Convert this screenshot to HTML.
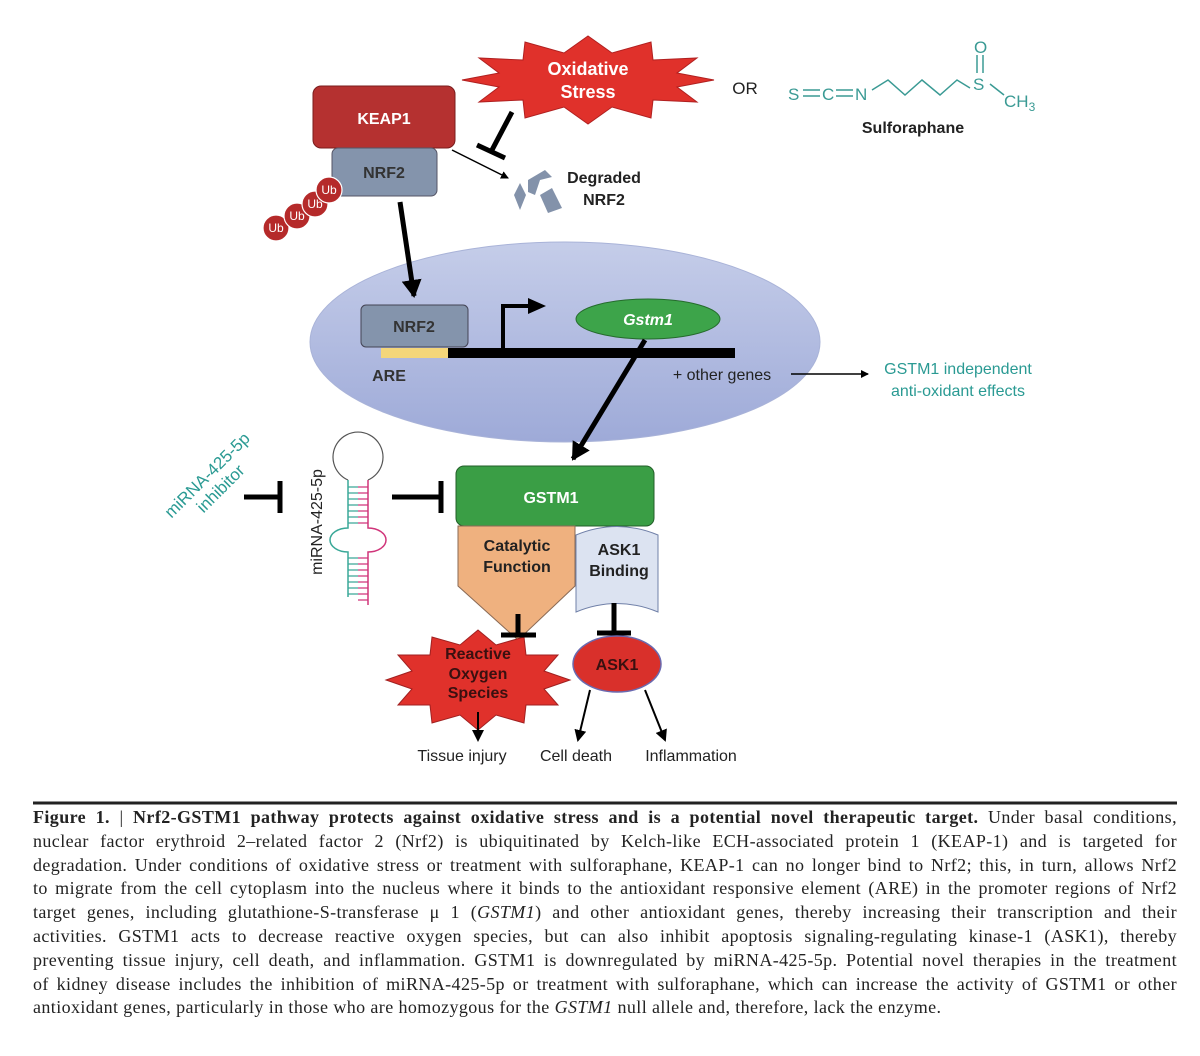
<!DOCTYPE html>
<html><head><meta charset="utf-8"><style>
body{margin:0;background:#fff;width:1200px;height:1056px;overflow:hidden;position:relative}
svg{position:absolute;left:0;top:0}
.cap{position:absolute;left:33px;width:1144px;top:806px;font-family:"Liberation Serif",serif;font-size:18px;letter-spacing:0.4px;color:#222;line-height:23.8px}
.cap div{text-align:justify;text-align-last:justify;white-space:nowrap;height:23.8px}
.cap div.last{text-align-last:left}
</style></head><body>
<svg width="1200" height="810" viewBox="0 0 1200 810" font-family="Liberation Sans, sans-serif">
<defs>
<marker id="ah" markerWidth="8" markerHeight="8" refX="7" refY="4" orient="auto" markerUnits="userSpaceOnUse"><path d="M0,0 L8,4 L0,8z" fill="#000"/></marker>
<marker id="ahb" markerWidth="20" markerHeight="20" refX="16" refY="10" orient="auto" markerUnits="userSpaceOnUse"><path d="M0,0 L18,10 L0,20z" fill="#000"/></marker>
<marker id="ahm" markerWidth="12" markerHeight="12" refX="10" refY="6" orient="auto" markerUnits="userSpaceOnUse"><path d="M0,0 L12,6 L0,12z" fill="#000"/></marker>
<linearGradient id="ng" x1="0" y1="0" x2="0" y2="1"><stop offset="0" stop-color="#c5cde9"/><stop offset="1" stop-color="#9eaad8"/></linearGradient>
</defs>
<ellipse cx="565" cy="342" rx="255" ry="100" fill="url(#ng)" stroke="#a9b3d8"/>
<polygon fill="#e0312b" stroke="#b02020" points="714,80 677,87 697,102 653,100 651,118 612,107 588,124 564,107 525,118 523,100 479,102 499,87 462,80 499,73 479,58 523,60 525,42 564,53 588,36 612,53 651,42 653,60 697,58 677,73"/>
<text x="588" y="75" text-anchor="middle" fill="#fff" font-weight="bold" font-size="18">Oxidative</text>
<text x="588" y="98" text-anchor="middle" fill="#fff" font-weight="bold" font-size="18">Stress</text>
<text x="745" y="94" text-anchor="middle" font-size="17" fill="#222">OR</text>
<g fill="#3a9a94" stroke="#3a9a94" font-size="17">
<text x="788" y="100" stroke="none">S</text>
<line x1="803" y1="90" x2="820" y2="90" stroke-width="1.5"/><line x1="803" y1="96" x2="820" y2="96" stroke-width="1.5"/>
<text x="822" y="100" stroke="none">C</text>
<line x1="836" y1="90" x2="853" y2="90" stroke-width="1.5"/><line x1="836" y1="96" x2="853" y2="96" stroke-width="1.5"/>
<text x="855" y="100" stroke="none">N</text>
<polyline points="872,90 888,80 905,95 922,80 940,95 957,80 970,88" fill="none" stroke-width="1.5"/>
<text x="973" y="90" stroke="none">S</text>
<line x1="977" y1="55" x2="977" y2="73" stroke-width="1.5"/><line x1="983" y1="55" x2="983" y2="73" stroke-width="1.5"/>
<text x="974" y="53" stroke="none">O</text>
<line x1="990" y1="84" x2="1004" y2="95" stroke-width="1.5"/>
<text x="1004" y="107" stroke="none">CH<tspan font-size="12" dy="4">3</tspan></text>
</g>
<text x="913" y="133" text-anchor="middle" font-weight="bold" font-size="16" fill="#222">Sulforaphane</text>
<rect x="313" y="86" width="142" height="62" rx="8" fill="#b53130" stroke="#7a1d1d"/>
<text x="384" y="124" text-anchor="middle" fill="#fff" font-weight="bold" font-size="16">KEAP1</text>
<rect x="332" y="148" width="105" height="48" rx="6" fill="#8494ac" stroke="#556"/>
<text x="384" y="178" text-anchor="middle" fill="#333" font-weight="bold" font-size="16">NRF2</text>
<g fill="#b52a2a" stroke="#fff" stroke-width="1.2">
<circle cx="276" cy="228" r="13"/><circle cx="297" cy="216" r="13"/><circle cx="315" cy="204" r="13"/><circle cx="329" cy="190" r="13"/>
</g>
<g fill="#fff" font-size="12" text-anchor="middle"><text x="276" y="232">Ub</text><text x="297" y="220">Ub</text><text x="315" y="208">Ub</text><text x="329" y="194">Ub</text></g>
<line x1="512" y1="112" x2="492" y2="150" stroke="#000" stroke-width="5"/>
<line x1="477" y1="145" x2="505" y2="158" stroke="#000" stroke-width="5"/>
<line x1="452" y1="150" x2="508" y2="178" stroke="#000" stroke-width="1.5" marker-end="url(#ah)"/>
<g fill="#8392aa"><polygon points="514,195 520,183 526,195 520,210"/><polygon points="528,180 545,170 552,177 540,180 535,195 528,192"/><polygon points="540,195 552,188 562,208 548,213"/></g>
<text x="604" y="183" text-anchor="middle" font-weight="bold" font-size="16" fill="#222">Degraded</text>
<text x="604" y="205" text-anchor="middle" font-weight="bold" font-size="16" fill="#222">NRF2</text>
<line x1="400" y1="202" x2="414" y2="296" stroke="#000" stroke-width="5" marker-end="url(#ahb)"/>
<rect x="361" y="305" width="107" height="42" rx="5" fill="#8494ac" stroke="#445"/>
<text x="414" y="332" text-anchor="middle" fill="#333" font-weight="bold" font-size="16">NRF2</text>
<rect x="381" y="348" width="67" height="10" fill="#f4d67a"/>
<rect x="448" y="348" width="287" height="10" fill="#000"/>
<polyline points="503,350 503,306 530,306" fill="none" stroke="#000" stroke-width="4"/>
<polygon points="528,298 546,306 528,314" fill="#000"/>
<ellipse cx="648" cy="319" rx="72" ry="20" fill="#3da44a" stroke="#256b2c"/>
<text x="648" y="325" text-anchor="middle" fill="#fff" font-weight="bold" font-style="italic" font-size="16">Gstm1</text>
<text x="389" y="381" text-anchor="middle" fill="#333" font-weight="bold" font-size="16">ARE</text>
<text x="722" y="380" text-anchor="middle" fill="#222" font-size="16">+ other genes</text>
<line x1="791" y1="374" x2="868" y2="374" stroke="#000" stroke-width="1.5" marker-end="url(#ah)"/>
<text x="958" y="374" text-anchor="middle" fill="#2a9a93" font-size="16">GSTM1 independent</text>
<text x="958" y="396" text-anchor="middle" fill="#2a9a93" font-size="16">anti-oxidant effects</text>
<line x1="645" y1="340" x2="573" y2="459" stroke="#000" stroke-width="5" marker-end="url(#ahb)"/>
<rect x="456" y="466" width="198" height="60" rx="8" fill="#3a9e45" stroke="#235f29"/>
<text x="551" y="503" text-anchor="middle" fill="#fff" font-weight="bold" font-size="16">GSTM1</text>
<polygon points="458,526 575,526 575,586 518,640 458,586" fill="#efb17f" stroke="#8a6a55"/>
<text x="517" y="551" text-anchor="middle" fill="#222" font-weight="bold" font-size="16">Catalytic</text>
<text x="517" y="572" text-anchor="middle" fill="#222" font-weight="bold" font-size="16">Function</text>
<path d="M576,535 Q617,518 658,535 L658,612 Q617,595 576,612 Z" fill="#dce3f1" stroke="#7080a8"/>
<text x="619" y="555" text-anchor="middle" fill="#222" font-weight="bold" font-size="16">ASK1</text>
<text x="619" y="576" text-anchor="middle" fill="#222" font-weight="bold" font-size="16">Binding</text>
<polygon fill="#e0312b" stroke="#a02020" points="570,680 544,689 558,705 526,705 524,723 496,715 478,730 460,715 432,723 430,705 398,705 412,689 386,680 412,671 398,655 430,655 432,637 460,645 478,630 496,645 524,637 526,655 558,655 544,671"/>
<text x="478" y="659" text-anchor="middle" fill="#3a1010" font-weight="bold" font-size="16">Reactive</text>
<text x="478" y="679" text-anchor="middle" fill="#3a1010" font-weight="bold" font-size="16">Oxygen</text>
<text x="478" y="698" text-anchor="middle" fill="#3a1010" font-weight="bold" font-size="16">Species</text>
<line x1="518" y1="614" x2="518" y2="635" stroke="#000" stroke-width="5"/>
<line x1="501" y1="635" x2="536" y2="635" stroke="#000" stroke-width="5"/>
<line x1="614" y1="603" x2="614" y2="632" stroke="#000" stroke-width="5"/>
<line x1="597" y1="633" x2="631" y2="633" stroke="#000" stroke-width="5"/>
<ellipse cx="617" cy="664" rx="44" ry="28" fill="#d9302b" stroke="#6a6ab0" stroke-width="1.5"/>
<text x="617" y="670" text-anchor="middle" fill="#3a1010" font-weight="bold" font-size="16">ASK1</text>
<line x1="478" y1="712" x2="478" y2="740" stroke="#000" stroke-width="2" marker-end="url(#ahm)"/>
<line x1="590" y1="690" x2="578" y2="740" stroke="#000" stroke-width="2" marker-end="url(#ahm)"/>
<line x1="645" y1="690" x2="665" y2="740" stroke="#000" stroke-width="2" marker-end="url(#ahm)"/>
<g font-size="16" fill="#222" text-anchor="middle"><text x="462" y="761">Tissue injury</text><text x="576" y="761">Cell death</text><text x="691" y="761">Inflammation</text></g>
<path d="M348,480 A25,25 0 1 1 368,480" fill="none" stroke="#555" stroke-width="1.2"/>
<path d="M348,480 L348,528 A18,12 0 0 0 348,552 L348,597" fill="none" stroke="#3aa898" stroke-width="1.5"/>
<path d="M368,480 L368,528 A18,12 0 0 1 368,552 L368,605" fill="none" stroke="#d0357a" stroke-width="1.5"/>
<g stroke-width="1.2">
<path d="M348,487H358M348,493H358M348,499H358M348,505H358M348,511H358M348,517H358M348,523H358M348,558H358M348,564H358M348,570H358M348,576H358M348,582H358M348,588H358M348,594H358" stroke="#3aa898"/>
<path d="M358,487H368M358,493H368M358,499H368M358,505H368M358,511H368M358,517H368M358,523H368M358,558H368M358,564H368M358,570H368M358,576H368M358,582H368M358,588H368M358,594H368M358,600H368" stroke="#d0357a"/>
</g>
<text transform="translate(322,522) rotate(-90)" text-anchor="middle" font-size="16" fill="#222">miRNA-425-5p</text>
<g transform="translate(214,482) rotate(-45)" text-anchor="middle" font-size="17" fill="#2a9a93"><text x="0" y="-4">miRNA-425-5p</text><text x="0" y="15">inhibitor</text></g>
<line x1="244" y1="497" x2="278" y2="497" stroke="#000" stroke-width="5"/>
<line x1="280" y1="481" x2="280" y2="513" stroke="#000" stroke-width="5"/>
<line x1="392" y1="497" x2="439" y2="497" stroke="#000" stroke-width="5"/>
<line x1="441" y1="481" x2="441" y2="513" stroke="#000" stroke-width="5"/>
<line x1="33" y1="803" x2="1177" y2="803" stroke="#222" stroke-width="3"/>
</svg>
<div class="cap">
<div><b>Figure 1.</b> | <b>Nrf2-GSTM1 pathway protects against oxidative stress and is a potential novel therapeutic target.</b> Under basal conditions,</div>
<div>nuclear factor erythroid 2–related factor 2 (Nrf2) is ubiquitinated by Kelch-like ECH-associated protein 1 (KEAP-1) and is targeted for</div>
<div>degradation. Under conditions of oxidative stress or treatment with sulforaphane, KEAP-1 can no longer bind to Nrf2; this, in turn, allows Nrf2</div>
<div>to migrate from the cell cytoplasm into the nucleus where it binds to the antioxidant responsive element (ARE) in the promoter regions of Nrf2</div>
<div>target genes, including glutathione-S-transferase μ 1 (<i>GSTM1</i>) and other antioxidant genes, thereby increasing their transcription and their</div>
<div>activities. GSTM1 acts to decrease reactive oxygen species, but can also inhibit apoptosis signaling-regulating kinase-1 (ASK1), thereby</div>
<div>preventing tissue injury, cell death, and inflammation. GSTM1 is downregulated by miRNA-425-5p. Potential novel therapies in the treatment</div>
<div>of kidney disease includes the inhibition of miRNA-425-5p or treatment with sulforaphane, which can increase the activity of GSTM1 or other</div>
<div class="last">antioxidant genes, particularly in those who are homozygous for the <i>GSTM1</i> null allele and, therefore, lack the enzyme.</div>
</div>
</body></html>
